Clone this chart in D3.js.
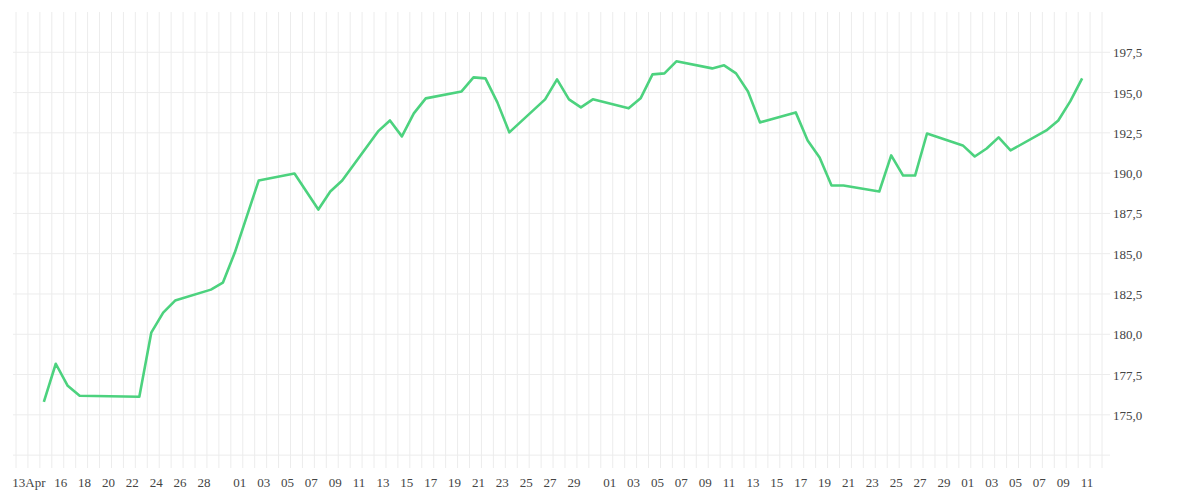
<!DOCTYPE html>
<html><head><meta charset="utf-8">
<script src="https://cdn.jsdelivr.net/npm/d3@7"></script>
<style>body{margin:0;background:#fff}</style></head>
<body><svg id="c" width="1200" height="500"></svg>
<script>
const dates = ["04-14","04-15","04-16","04-17","04-22","04-23","04-24","04-25","04-28","04-29","04-30","05-02","05-05","05-07","05-08","05-09","05-12","05-13","05-14","05-15","05-16","05-19","05-20","05-21","05-22","05-23","05-26","05-27","05-28","05-29","05-30","06-02","06-03","06-04","06-05","06-06","06-09","06-10","06-11","06-12","06-13","06-16","06-17","06-18","06-19","06-20","06-23","06-24","06-25","06-26","06-27","06-30","07-01","07-02","07-03","07-04","07-07","07-08","07-09","07-10"];
const values = [175.8,178.17,176.8,176.18,176.12,180.1,181.34,182.09,182.77,183.2,185.07,189.54,189.98,187.74,188.86,189.54,192.59,193.27,192.28,193.71,194.64,195.07,195.94,195.88,194.39,192.53,194.58,195.82,194.58,194.08,194.58,194.02,194.64,196.13,196.19,196.94,196.5,196.69,196.19,195.07,193.15,193.77,192.03,190.97,189.23,189.23,188.86,191.1,189.85,189.85,192.46,191.72,191.03,191.53,192.22,191.41,192.65,193.27,194.45,195.88];
const yTicks = [175,177.5,180,182.5,185,187.5,190,192.5,195,197.5];
const yGrid = [172.5,175,177.5,180,182.5,185,187.5,190,192.5,195,197.5];
const xTickDays = ["04-13","04-16","04-18","04-20","04-22","04-24","04-26","04-28","05-01","05-03","05-05","05-07","05-09","05-11","05-13","05-15","05-17","05-19","05-21","05-23","05-25","05-27","05-29","06-01","06-03","06-05","06-07","06-09","06-11","06-13","06-15","06-17","06-19","06-21","06-23","06-25","06-27","06-29","07-01","07-03","07-05","07-07","07-09","07-11"];

const P = d => new Date(`2020-${d}T00:00:00`);
const data = dates.map((d,i)=>({t:new Date(`2020-${d}T08:00:00`), v:values[i]}));
const svg = d3.select("#c");
const x = d3.scaleTime().domain([P("04-12"), new Date("2020-07-12T16:00:00")]).range([16,1110]);
const y = d3.scaleLinear().domain([171.7,200]).range([468,12]);

const g = svg.append("g");
d3.timeDay.range(P("04-12"), P("07-13")).forEach(d=>{
  g.append("line").attr("x1",x(d)).attr("x2",x(d)).attr("y1",12).attr("y2",468)
   .attr("stroke","#ececec").attr("stroke-width",1);
});
yGrid.forEach(v=>{
  g.append("line").attr("x1",13).attr("x2",1110).attr("y1",y(v)).attr("y2",y(v))
   .attr("stroke","#ececec").attr("stroke-width",1);
});
const fmt = d3.format(".1f");
svg.append("g").selectAll("text").data(yTicks).join("text")
  .attr("x",1113).attr("y",v=>y(v)+5).text(v=>fmt(v).replace(".",","))
  .attr("font-family","Liberation Serif").attr("font-size",13).attr("fill","#444");
svg.append("g").selectAll("text").data(xTickDays).join("text")
  .attr("x",(d,i)=>x(P(d))+(i===0?1:-3)).attr("y",487).attr("text-anchor","middle")
  .text((d,i)=>i===0?"13Apr":d3.timeFormat("%d")(P(d)))
  .attr("font-family","Liberation Serif").attr("font-size",13).attr("fill","#444");
svg.append("path").datum(data)
  .attr("d",d3.line().x(d=>x(d.t)).y(d=>y(d.v)))
  .attr("fill","none").attr("stroke","#4cd27e").attr("stroke-width",2.6).attr("stroke-linejoin","round");
</script></body></html>
